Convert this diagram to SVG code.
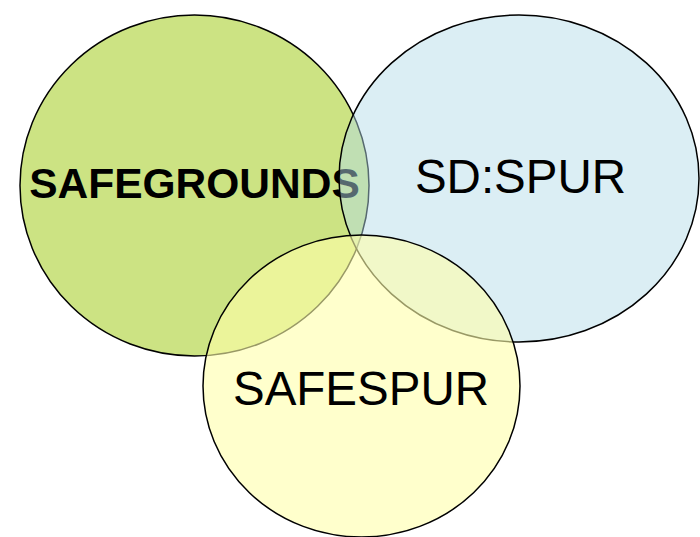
<svg xmlns="http://www.w3.org/2000/svg" width="700" height="537" viewBox="0 0 700 537">
<style>
.c{stroke:#000;stroke-width:1.5}
.t{font-family:"Liberation Sans",Arial,sans-serif;fill:#000;text-anchor:middle}
</style>
<rect width="700" height="537" fill="#fff"/>
<g id="safegrounds">
<ellipse class="c" cx="194.5" cy="185.5" rx="174.5" ry="170.5" fill="#CCE383"/>
<text class="t" x="194.5" y="197.5" font-size="42.5" font-weight="bold">SAFEGROUNDS</text>
</g>
<g id="sdspur">
<ellipse cx="519" cy="178.5" rx="180" ry="163.5" fill="#B4DCE8" fill-opacity="0.48"/>
<ellipse cx="519" cy="178.5" rx="180" ry="163.5" fill="none" class="c"/>
<text class="t" x="520.5" y="193" font-size="47.5">SD:SPUR</text>
</g>
<g id="safespur">
<ellipse cx="361.5" cy="386" rx="158.5" ry="151" fill="#FFFFAA" fill-opacity="0.6"/>
<ellipse cx="361.5" cy="386" rx="158.5" ry="151" fill="none" class="c"/>
<text class="t" x="361" y="405" font-size="47.5">SAFESPUR</text>
</g>
</svg>
